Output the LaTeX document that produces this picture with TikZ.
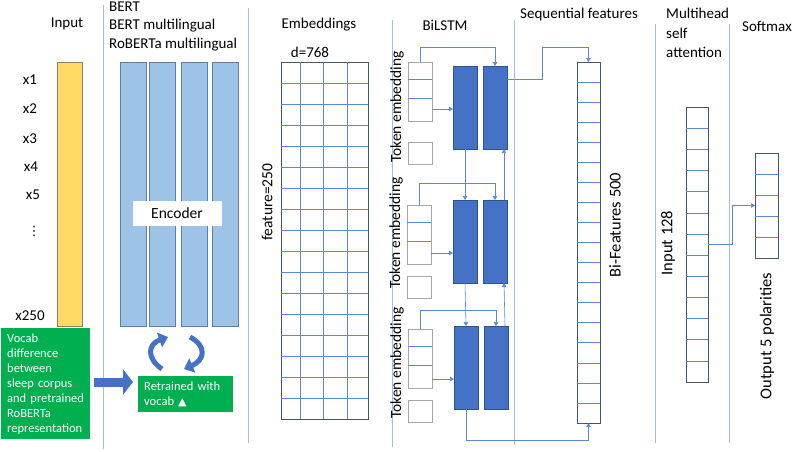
\documentclass[tikz,border=0pt]{standalone}
\usepackage{fontspec}
\setmainfont{Carlito}
\newfontfamily\symfont{DejaVu Sans}
\usepackage{tikz}
\usetikzlibrary{arrows.meta,calc}
\usepackage{xcolor}
\definecolor{cInput}{HTML}{FFD966}
\definecolor{cInputL}{HTML}{8C8060}
\definecolor{cEnc}{HTML}{9DC3E6}
\definecolor{cEncL}{HTML}{5F7FA6}
\definecolor{cLstm}{HTML}{4472C4}
\definecolor{cLstmL}{HTML}{2F528F}
\definecolor{cGreen}{HTML}{00B050}
\definecolor{cBox}{HTML}{44546A}
\definecolor{cLine}{HTML}{5B87D6}
\definecolor{cSep}{HTML}{A4BDE6}

\begin{document}
\begin{tikzpicture}[
  x=1pt, y=-1pt, font=\fontsize{15}{18}\selectfont,
  % ── styles: boxes, grid lines, connectors, labels ──
  hd/.style={inner sep=0pt, align=left},
  bx/.style={draw=cBox, line width=0.7pt, fill=white, anchor=north west,
             inner sep=0pt, outer sep=0pt},
  inp/.style={bx, draw=cInputL, fill=cInput, minimum width=25, minimum height=264},
  enc/.style={bx, draw=cEncL, fill=cEnc, minimum height=264},
  lstm/.style={bx, draw=cLstmL, fill=cLstm, minimum width=24, minimum height=83},
  tok/.style={bx, draw=gray!70, minimum width=24, minimum height=59},
  tks/.style={tok, minimum height=22},
  gr/.style={fill=cGreen, text=white, align=left, anchor=north west,
             inner xsep=6pt, inner ysep=3pt, font=\fontsize{12.5}{15}\selectfont},
  gl/.style={cLine, line width=0.5pt},
  cn/.style={-{Triangle[length=4pt,width=4.5pt]}, cLine, line width=0.6pt},
  sp/.style={cSep, line width=0.8pt},
  vt/.style={rotate=90, inner sep=0pt, font=\fontsize{15.5}{18}\selectfont},
  xl/.style={inner sep=0pt},
  ca/.style={cLstm, line width=5pt, -{Triangle[length=9pt,width=15pt]}},
  ba/.style={cLstm, line width=9pt, -{Triangle[length=10pt,width=25pt]}},
]
\useasboundingbox (0,0) rectangle (795,451);

% ── separators between stages ──
\draw[sp] (103,5) -- (103,449);
\draw[sp] (248,8) -- (248,443);
\draw[sp] (392,20) -- (392,447);
\draw[sp] (514,20) -- (514,445);
\draw[sp] (655,24) -- (655,443);
\draw[sp] (729,24) -- (729,443);

% ── headings ──
\node[hd] (hIn) at (67,24) {Input};
\node[hd, anchor=west, font=\fontsize{15}{18.5}\selectfont] (hBert) at (109,26)
  {BERT\\BERT multilingual\\RoBERTa multilingual};
\node[hd] (hEmb) at (319,25) {Embeddings};
\node[hd] (hLstm) at (445,25) {BiLSTM};
\node[hd, anchor=west] (hSeq) at (520,14) {Sequential features};
\node[hd, anchor=west, font=\fontsize{15}{19.5}\selectfont] (hMha) at (666,33)
  {Multihead\\self\\attention};
\node[hd, anchor=west] (hSm) at (742,26) {Softmax};

% ── input tokens ──
\node[inp] (inp) at (57,62) {};
\node[xl] (x1) at (30,80) {x1};
\node[xl] (x2) at (30,109) {x2};
\node[xl] (x3) at (30,139) {x3};
\node[xl] (x4) at (31,167) {x4};
\node[xl] (x5) at (33,195) {x5};
\node[xl, font=\symfont\fontsize{13}{15}\selectfont] (xd) at (34,231) {⋮};
\node[xl] (xN) at (30,316) {x250};

% ── encoder stack ──
\node[enc, minimum width=26] (enc1) at (120,62) {};
\node[enc, minimum width=26] (enc2) at (149,62) {};
\node[enc, minimum width=26] (enc3) at (181,62) {};
\node[enc, minimum width=26] (enc4) at (212,62) {};
\node[fill=white, minimum width=89, minimum height=25, inner sep=0pt,
      font=\fontsize{15.5}{18}\selectfont] (encT) at (177,213) {Encoder};

% ── vocab retraining ──
\node[gr, text width=77, minimum height=111] (voc) at (1,328)
  {Vocab\\difference\\between\\sleep corpus\\and pretrained\\RoBERTa\\representation};
\node[gr, text width=83, minimum height=36] (ret) at (138,376)
  {Retrained with\\vocab {\symfont\fontsize{11}{12}\selectfont ▲}};
\draw[ba] ($(voc.east |- 0,382)+(4,0)$) -- ($(ret.west |- 0,382)+(-5,0)$);
\draw[ca] (162,369) .. controls (146,358) and (148,344) .. (168,337);
\draw[ca] (190,337) .. controls (207,346) and (205,360) .. (184,369);

% ── embeddings grid ──
\node[bx] (emb) at (281,62) [minimum width=87, minimum height=357] {};
\foreach \i in {1,...,16}
  \draw[gl] ($(emb.north west)+(0,\i*21)$) -- ++(87,0);
\foreach \dx in {19,42,66}
  \draw[gl] ($(emb.north west)+(\dx,0)$) -- ++(0,357);
\node[xl] (dim) at (310,52) {d=768};
\node[vt] (feat) at (267,202) {feature=250};

% ── BiLSTM ──
\node[tok] (tok1) at (408,62) {};
\node[tks] (tks1) at (408,142) {};
\node[tok] (tok2) at (407,205) {};
\node[tks] (tks2) at (407,276) {};
\node[tok] (tok3) at (408,329) {};
\node[tks] (tks3) at (408,400) {};
\foreach \t in {tok1,tok2,tok3}
  \foreach \dy in {17,36}
    \draw[gl] ($(\t.north west)+(0,\dy)$) -- ++(24,0);
\node[vt] (lab1) at (397,107) {Token embedding};
\node[vt] (lab2) at (396,233) {Token embedding};
\node[vt] (lab3) at (397,363) {Token embedding};

\node[lstm] (fw1) at (453,66) {};
\node[lstm] (bw1) at (483,66) {};
\node[lstm] (fw2) at (453,200) {};
\node[lstm] (bw2) at (483,200) {};
\node[lstm] (fw3) at (454,326) {};
\node[lstm] (bw3) at (484,326) {};

\draw[cn] (tok1.north) -- ++(0,-15) -| (bw1.north);
\draw[cn] (tok2.north) -- ++(0,-22) -| (bw2.north);
\draw[cn] (tok3.north) -- ++(0,-19) -| (bw3.north);
\draw[cn] ($(tok1.south east)+(0,-12)$) coordinate (e1) -- (e1 -| fw1.west);
\draw[cn] ($(tok2.south east)+(0,-11)$) coordinate (e2) -- (e2 -| fw2.west);
\draw[cn] ($(tok3.south east)+(0,-9)$) coordinate (e3) -- (e3 -| fw3.west);
\draw[cn] (fw1.south) -- (fw2.north);
\draw[cn] (fw2.south) -- (fw3.north);
\draw[cn] ($(bw2.north east)+(-3,0)$) -- ($(bw1.south east)+(-3,0)$);
\draw[cn] ($(bw3.north east)+(-3,0)$) -- ($(bw2.south east)+(-3,0)$);

% ── sequential features ──
\node[bx] (bif) at (577,62) [minimum width=23, minimum height=361] {};
\foreach \i in {1,...,17}
  \draw[gl] ($(bif.north west)+(0,\i*20.05)$) -- ++(23,0);
\node[vt, font=\fontsize{16.5}{19}\selectfont] (bil) at (615,225) {Bi-Features 500};
\draw[cn] ($(bw1.north east)+(0,13)$) -| ($(bif.north)+(-46,-15)$) -| (bif.north);
\draw[cn] (fw3.south) -- ++(0,31) -| (bif.south);

% ── attention + softmax ──
\node[bx] (mha) at (686,107) [minimum width=22, minimum height=275] {};
\foreach \i in {1,...,12}
  \draw[gl] ($(mha.north west)+(0,\i*21.15)$) -- ++(22,0);
\node[vt, font=\fontsize{16.5}{19}\selectfont] (mhl) at (668,243) {Input 128};
\node[bx] (soft) at (755,153) [minimum width=23, minimum height=105] {};
\foreach \i in {1,...,4}
  \draw[gl] ($(soft.north west)+(0,\i*21)$) -- ++(23,0);
\node[vt, font=\fontsize{16.5}{19}\selectfont] (sml) at (767,336) {Output 5 polarities};
\draw[cn] (mha.east) -- ++(24,0) |- (soft.west);
\end{tikzpicture}
\end{document}
